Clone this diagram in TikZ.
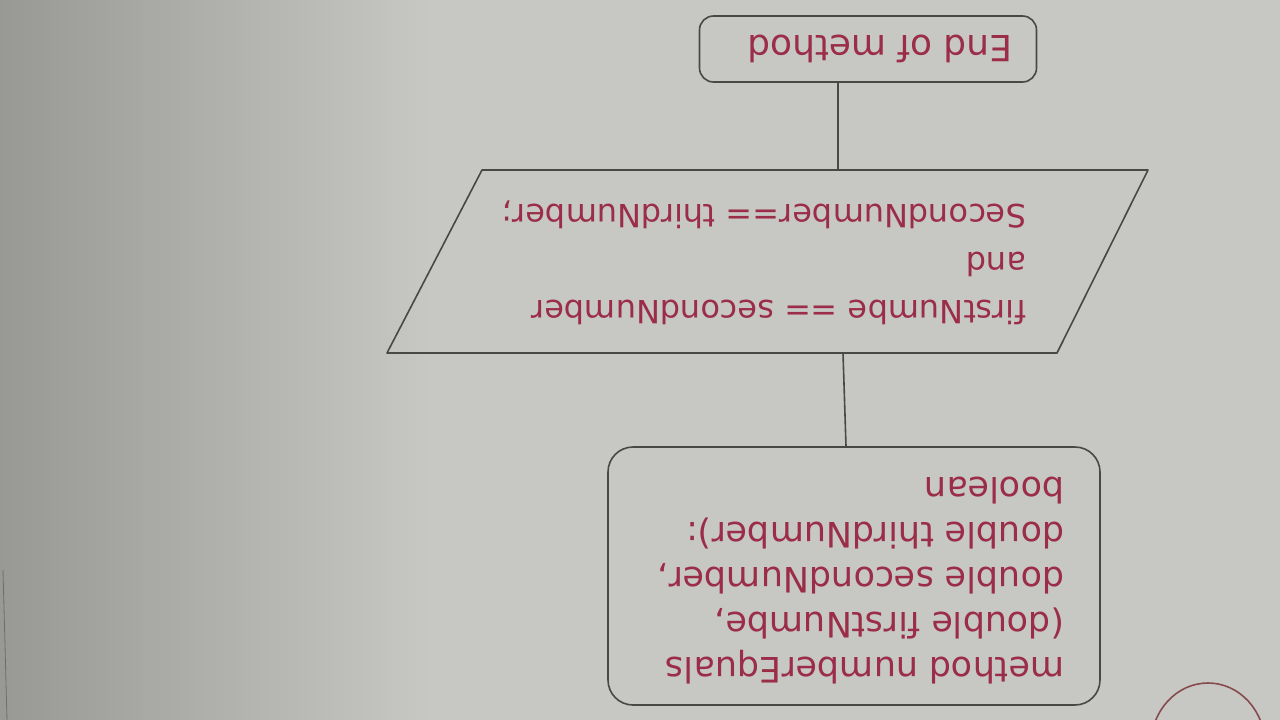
\documentclass[tikz,border=0pt]{standalone}
\usepackage{graphicx}
\usepackage{fontspec}
\setmainfont[Ligatures=NoCommon]{DejaVu Sans}
\definecolor{ink}{RGB}{155,45,72}
\definecolor{pencil}{RGB}{72,72,70}
\definecolor{paper}{RGB}{199,200,196}
\definecolor{paperdark}{RGB}{152,153,149}
\definecolor{circink}{RGB}{135,75,78}
\begin{document}
\begin{tikzpicture}[x=1pt,y=-1pt,
  pline/.style={draw=pencil,line width=1.6pt,line join=round},
  termbox/.style={pline,rounded corners=14pt,minimum width=337pt,minimum height=66pt,inner sep=0pt,text=ink},
  parambox/.style={pline,rounded corners=25pt,minimum width=492pt,minimum height=258pt,inner sep=0pt,text=ink},
  plaintext/.style={text=ink,inner sep=0pt}]
\useasboundingbox (0,0) rectangle (1280,720);
% paper
\fill[paper] (0,0) rectangle (1280,720);
\shade[left color=paperdark,right color=paper] (0,0) rectangle (430,720);
\draw[pencil!80,line width=0.8pt] (3,570) -- (7,720);
% closing method box (top)
\node[termbox] (endbox) at (868,49)
  {\rotatebox[origin=c]{180}{\fontsize{36}{44}\selectfont End of method\hspace{24pt}}};
% decision parallelogram
\coordinate (pa) at (482,170);
\coordinate (pb) at (1148,170);
\coordinate (pc) at (1057,353);
\coordinate (pd) at (387,353);
\draw[pline] (pa) -- (pb) -- (pc) -- (pd) -- cycle;
\node[plaintext] (ptxt) at (764,262)
  {\rotatebox[origin=c]{180}{\fontsize{32}{48}\selectfont
   \begin{tabular}{@{}l@{}}firstNumbe == secondNumber\\and\\SecondNumber== thirdNumber;\end{tabular}}};
% method signature box (bottom)
\node[parambox] (pbox) at (854,576)
  {\rotatebox[origin=c]{180}{\fontsize{35}{45}\selectfont
   \begin{tabular}{@{}l@{}}method numberEquals\\(double firstNumbe,\\double secondNumber,\\double thirdNumber):\\boolean\end{tabular}\hspace{14pt}}};
% connectors
\coordinate (ptop) at (838,170);
\coordinate (pbot) at (843,353);
\coordinate (bx) at (846,0);
\draw[pline] (endbox.south -| ptop) -- (ptop);
\draw[pline] (pbot) -- (pbox.north -| bx);
% partial circle at lower right edge
\begin{scope}
\clip (0,0) rectangle (1280,720);
\draw[circink,line width=1.6pt] (1208,745) ellipse [x radius=57,y radius=62];
\end{scope}
\end{tikzpicture}
\end{document}
